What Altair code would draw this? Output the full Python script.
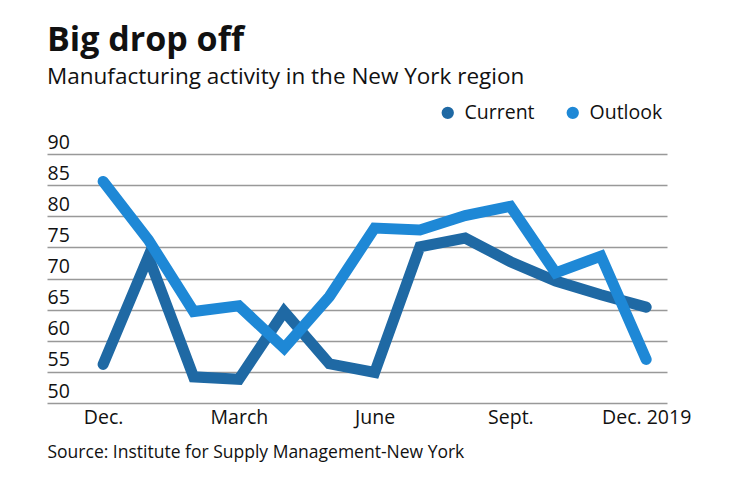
import altair as alt
import pandas as pd

months = list(range(13))  # Dec 2018 .. Dec 2019
current = [56.2, 73.5, 54.2, 53.8, 64.7, 56.3, 54.9, 75.1, 76.5, 72.7, 69.6, 67.4, 65.4]
outlook = [85.6, 76.2, 64.7, 65.6, 58.8, 67.1, 78.1, 77.8, 80.1, 81.6, 70.9, 73.6, 57.0]
series = ["Current", "Outlook"]
colors = ["#1f69a4", "#1e88d6"]
tick_pos = [0, 3, 6, 9, 12]
tick_labels = ["Dec.", "March", "June", "Sept.", "Dec. 2019"]
y_ticks = [50, 55, 60, 65, 70, 75, 80, 85, 90]

df = pd.DataFrame({
    "month": months * 2,
    "value": current + outlook,
    "series": ["Current"] * 13 + ["Outlook"] * 13,
})

label_expr = " : ".join(
    f"datum.value == {p} ? '{l}'" for p, l in zip(tick_pos, tick_labels)
) + " : ''"

FONT = "Open Sans"

chart = alt.Chart(df).mark_line(
    strokeWidth=11, strokeCap="round", strokeJoin="miter"
).encode(
    x=alt.X("month:Q",
            scale=alt.Scale(domain=[-1.24, 12.46], nice=False, zero=False),
            axis=alt.Axis(values=tick_pos, labelExpr=label_expr, grid=False,
                          ticks=False, domain=False, labelPadding=5,
                          labelFontSize=19.5, labelColor="#111",
                          title="Source: Institute for Supply Management-New York",
                          titleAnchor="start", titleAlign="left",
                          titleFontWeight="normal", titleFontSize=17.5,
                          titleColor="#111", titlePadding=17)),
    y=alt.Y("value:Q",
            scale=alt.Scale(domain=[50, 90], nice=False, zero=False),
            axis=alt.Axis(values=y_ticks, title=None, grid=True,
                          gridColor="#999", gridWidth=1.3,
                          ticks=False, tickSize=0, domain=False,
                          labelAlign="left", labelBaseline="bottom",
                          labelPadding=0, labelOffset=-2,
                          labelFontSize=19.5, labelColor="#111")),
    color=alt.Color("series:N",
                    scale=alt.Scale(domain=series, range=colors),
                    legend=alt.Legend(orient="none", legendX=391, legendY=-51,
                                      direction="horizontal", title=None,
                                      symbolType="circle", symbolSize=40,
                                      symbolStrokeWidth=6,
                                      labelFontSize=19.5, labelColor="#111",
                                      labelOffset=7, columnPadding=22)),
).properties(
    width=620,
    height=249,
    title=alt.TitleParams(
        text="Big drop off",
        subtitle="Manufacturing activity in the New York region",
        anchor="start", fontSize=34, fontWeight="bold", color="#111",
        subtitleFontSize=22.5, subtitleColor="#111", subtitlePadding=8,
        offset=15, font=FONT, subtitleFont=FONT,
    ),
    autosize=alt.AutoSizeParams(type="none"),
    padding={"left": 39, "top": 146, "right": 65, "bottom": 71},
).configure(
    font=FONT,
).configure_view(
    stroke=None
)

chart.save("out.html", embed_options={"renderer": "svg", "actions": False})
